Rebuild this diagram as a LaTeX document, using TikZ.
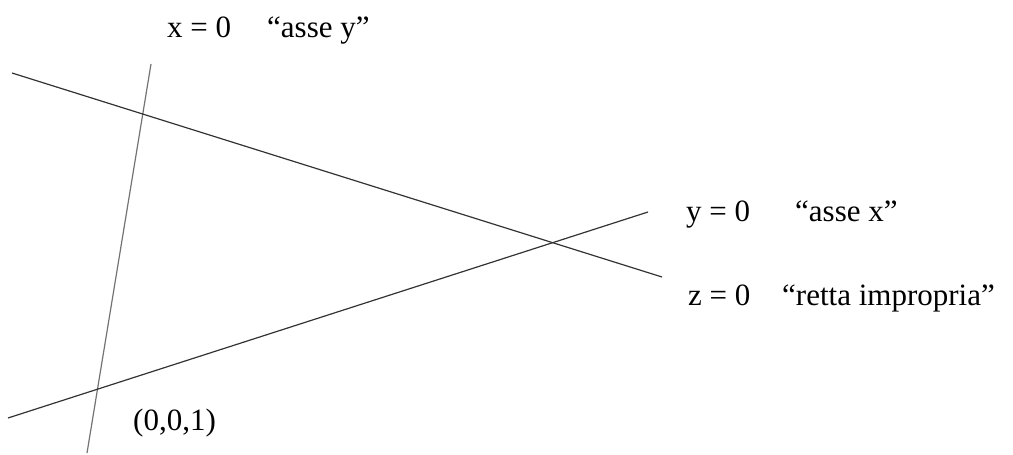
\documentclass[tikz,border=0pt]{standalone}
\usepackage{fontspec}
\setmainfont{Liberation Serif}
\begin{document}
\begin{tikzpicture}[x=1pt,y=-1pt,
  retta/.style={line width=1.2pt, black!80},
  rettav/.style={line width=1.2pt, black!55},
  lab/.style={anchor=base west, inner sep=0pt, font=\fontsize{31}{35}\selectfont}]
\useasboundingbox (0,0) rectangle (1013,455);
% end points of the three lines
\coordinate (xa) at (151,64);
\coordinate (xb) at (87,453);
\coordinate (za) at (12,73);
\coordinate (zb) at (662,277);
\coordinate (ya) at (8,418);
\coordinate (yb) at (648,212);
\draw[rettav] (xa) -- (xb);
\draw[retta] (za) -- (zb);
\draw[retta] (ya) -- (yb);
% labels
\node[lab] (lx1) at (167,37) {x = 0};
\node[lab] (lx2) at (267,37) {“asse y”};
\node[lab] (ly1) at (686,221) {y = 0};
\node[lab] (ly2) at (795,221) {“asse x”};
\node[lab] (lz1) at (688,305) {z = 0};
\node[lab] (lz2) at (782,305) {“retta impropria”};
\node[lab] (lo) at (133,430) {(0,0,1)};
\end{tikzpicture}
\end{document}
